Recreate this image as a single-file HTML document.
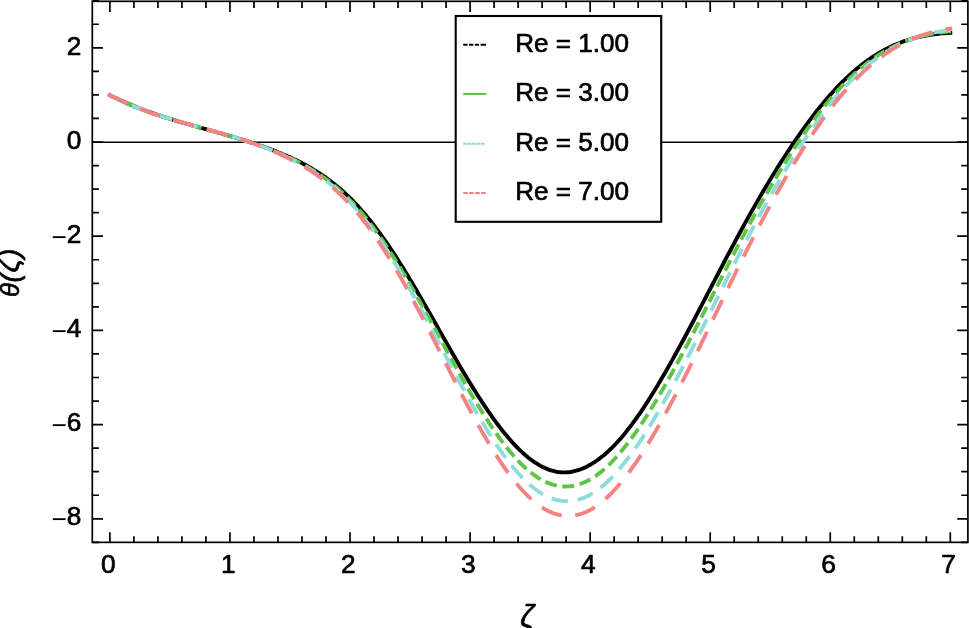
<!DOCTYPE html>
<html lang="en"><head><meta charset="utf-8"><title>θ(ζ) versus ζ for several Re</title>
<style>
html,body{margin:0;padding:0;background:#fff}
body{width:969px;height:628px;overflow:hidden}
svg{display:block}
text{font-family:"Liberation Sans",Arial,Helvetica,sans-serif;font-size:26px;fill:#000;stroke:#000;stroke-width:0.7px;stroke-linejoin:round}
.it{font-style:italic}
</style></head><body>
<svg width="969" height="628" viewBox="0 0 969 628">
<rect width="969" height="628" fill="#fff"/>
<path d="M92.3 142.25 H967.9" stroke="#000" stroke-width="1.7" fill="none"/>
<g fill="none" stroke-linejoin="round">
<path d="M109.9 95.2 L111.9 96.2 L113.9 97.2 L115.9 98.1 L117.9 99.1 L119.9 100.0 L121.9 100.9 L123.9 101.8 L125.9 102.7 L127.9 103.6 L129.9 104.4 L131.9 105.3 L133.9 106.1 L135.9 106.9 L137.9 107.7 L139.9 108.5 L141.9 109.2 L143.9 110.0 L145.9 110.7 L147.9 111.5 L149.9 112.2 L151.9 112.9 L153.9 113.6 L155.9 114.3 L157.9 115.0 L159.9 115.6 L161.9 116.3 L163.9 116.9 L165.9 117.6 L167.9 118.2 L169.9 118.8 L171.9 119.4 L173.9 120.1 L175.9 120.7 L177.9 121.3 L179.9 121.9 L181.9 122.4 L183.9 123.0 L185.9 123.6 L187.9 124.2 L189.9 124.7 L191.9 125.3 L193.9 125.9 L195.9 126.4 L197.9 127.0 L199.9 127.6 L201.9 128.1 L203.9 128.7 L205.9 129.2 L207.9 129.8 L209.9 130.3 L211.9 130.9 L213.9 131.5 L216.0 132.0 L218.0 132.6 L220.0 133.1 L222.0 133.7 L224.0 134.3 L226.0 134.8 L228.0 135.4 L230.0 136.0 L232.0 136.6 L234.0 137.2 L236.0 137.8 L238.0 138.4 L240.0 139.0 L242.0 139.6 L244.0 140.2 L246.0 140.9 L248.0 141.5 L250.0 142.1 L252.0 142.8 L254.0 143.4 L256.0 144.1 L258.0 144.8 L260.0 145.5 L262.0 146.2 L264.0 146.9 L266.0 147.6 L268.0 148.4 L270.0 149.1 L272.0 149.9 L274.0 150.6 L276.0 151.4 L278.0 152.2 L280.0 153.0 L282.0 153.9 L284.0 154.7 L286.0 155.6 L288.0 156.5 L290.0 157.3 L292.0 158.3 L294.0 159.2 L296.0 160.1 L298.0 161.1 L300.0 162.1 L302.0 163.1 L304.0 164.2 L306.0 165.3 L308.0 166.4 L310.0 167.5 L312.0 168.7 L314.0 169.9 L316.0 171.1 L318.0 172.3 L320.0 173.6 L322.0 175.0 L324.0 176.3 L326.0 177.7 L328.0 179.2 L330.0 180.7 L332.0 182.2 L334.0 183.7 L336.0 185.4 L338.0 187.0 L340.0 188.7 L342.0 190.5 L344.0 192.3 L346.0 194.1 L348.0 196.0 L350.0 197.9 L352.0 199.9 L354.0 202.0 L356.0 204.1 L358.0 206.2 L360.0 208.5 L362.0 210.7 L364.0 213.1 L366.0 215.4 L368.0 217.9 L370.0 220.3 L372.0 222.9 L374.0 225.5 L376.0 228.1 L378.0 230.8 L380.0 233.5 L382.0 236.3 L384.0 239.1 L386.0 241.9 L388.0 244.8 L390.0 247.8 L392.0 250.8 L394.0 253.8 L396.0 256.9 L398.0 260.0 L400.0 263.2 L402.0 266.4 L404.0 269.6 L406.0 272.8 L408.0 276.1 L410.0 279.5 L412.0 282.8 L414.0 286.2 L416.0 289.6 L418.0 293.0 L420.0 296.5 L422.0 299.9 L424.0 303.4 L426.1 306.9 L428.1 310.4 L430.1 314.0 L432.1 317.5 L434.1 321.0 L436.1 324.5 L438.1 328.1 L440.1 331.6 L442.1 335.2 L444.1 338.7 L446.1 342.2 L448.1 345.7 L450.1 349.2 L452.1 352.7 L454.1 356.2 L456.1 359.6 L458.1 363.1 L460.1 366.5 L462.1 369.9 L464.1 373.2 L466.1 376.6 L468.1 379.9 L470.1 383.2 L472.1 386.4 L474.1 389.6 L476.1 392.8 L478.1 396.0 L480.1 399.1 L482.1 402.1 L484.1 405.1 L486.1 408.1 L488.1 411.1 L490.1 413.9 L492.1 416.8 L494.1 419.6 L496.1 422.3 L498.1 425.0 L500.1 427.6 L502.1 430.2 L504.1 432.7 L506.1 435.1 L508.1 437.5 L510.1 439.8 L512.1 442.1 L514.1 444.2 L516.1 446.3 L518.1 448.4 L520.1 450.3 L522.1 452.2 L524.1 454.0 L526.1 455.7 L528.1 457.4 L530.1 459.0 L532.1 460.5 L534.1 461.9 L536.1 463.2 L538.1 464.4 L540.1 465.6 L542.1 466.7 L544.1 467.6 L546.1 468.5 L548.1 469.4 L550.1 470.1 L552.1 470.7 L554.1 471.2 L556.1 471.7 L558.1 472.0 L560.1 472.2 L562.1 472.4 L564.1 472.4 L566.1 472.4 L568.1 472.2 L570.1 472.0 L572.1 471.7 L574.1 471.2 L576.1 470.7 L578.1 470.1 L580.1 469.5 L582.1 468.7 L584.1 467.9 L586.1 466.9 L588.1 465.9 L590.1 464.8 L592.1 463.6 L594.1 462.4 L596.1 461.0 L598.1 459.6 L600.1 458.1 L602.1 456.5 L604.1 454.9 L606.1 453.2 L608.1 451.4 L610.1 449.5 L612.1 447.6 L614.1 445.6 L616.1 443.5 L618.1 441.3 L620.1 439.1 L622.1 436.8 L624.1 434.4 L626.1 431.9 L628.1 429.3 L630.1 426.7 L632.1 424.1 L634.1 421.3 L636.2 418.5 L638.2 415.7 L640.2 412.8 L642.2 409.8 L644.2 406.8 L646.2 403.7 L648.2 400.6 L650.2 397.5 L652.2 394.2 L654.2 391.0 L656.2 387.7 L658.2 384.4 L660.2 381.0 L662.2 377.6 L664.2 374.2 L666.2 370.7 L668.2 367.2 L670.2 363.7 L672.2 360.1 L674.2 356.5 L676.2 352.9 L678.2 349.3 L680.2 345.6 L682.2 342.0 L684.2 338.3 L686.2 334.5 L688.2 330.8 L690.2 327.0 L692.2 323.3 L694.2 319.5 L696.2 315.6 L698.2 311.8 L700.2 308.0 L702.2 304.2 L704.2 300.4 L706.2 296.5 L708.2 292.7 L710.2 288.9 L712.2 285.0 L714.2 281.2 L716.2 277.3 L718.2 273.5 L720.2 269.7 L722.2 265.9 L724.2 262.0 L726.2 258.2 L728.2 254.4 L730.2 250.7 L732.2 246.9 L734.2 243.2 L736.2 239.4 L738.2 235.7 L740.2 232.0 L742.2 228.4 L744.2 224.7 L746.2 221.1 L748.2 217.5 L750.2 213.9 L752.2 210.4 L754.2 206.9 L756.2 203.4 L758.2 199.9 L760.2 196.4 L762.2 193.0 L764.2 189.6 L766.2 186.2 L768.2 182.9 L770.2 179.6 L772.2 176.3 L774.2 173.0 L776.2 169.8 L778.2 166.6 L780.2 163.4 L782.2 160.3 L784.2 157.2 L786.2 154.1 L788.2 151.1 L790.2 148.1 L792.2 145.1 L794.2 142.1 L796.2 139.2 L798.2 136.3 L800.2 133.5 L802.2 130.7 L804.2 127.9 L806.2 125.1 L808.2 122.4 L810.2 119.7 L812.2 117.0 L814.2 114.4 L816.2 111.8 L818.2 109.3 L820.2 106.8 L822.2 104.4 L824.2 101.9 L826.2 99.6 L828.2 97.2 L830.2 94.9 L832.2 92.7 L834.2 90.5 L836.2 88.3 L838.2 86.2 L840.2 84.1 L842.2 82.1 L844.2 80.1 L846.3 78.2 L848.3 76.3 L850.3 74.4 L852.3 72.6 L854.3 70.9 L856.3 69.1 L858.3 67.5 L860.3 65.9 L862.3 64.3 L864.3 62.8 L866.3 61.3 L868.3 59.9 L870.3 58.5 L872.3 57.1 L874.3 55.8 L876.3 54.6 L878.3 53.4 L880.3 52.2 L882.3 51.1 L884.3 50.0 L886.3 48.9 L888.3 47.9 L890.3 46.9 L892.3 46.0 L894.3 45.1 L896.3 44.3 L898.3 43.5 L900.3 42.7 L902.3 41.9 L904.3 41.2 L906.3 40.6 L908.3 39.9 L910.3 39.3 L912.3 38.7 L914.3 38.2 L916.3 37.6 L918.3 37.2 L920.3 36.7 L922.3 36.3 L924.3 35.9 L926.3 35.5 L928.3 35.1 L930.3 34.8 L932.3 34.5 L934.3 34.2 L936.3 34.0 L938.3 33.8 L940.3 33.6 L942.3 33.4 L944.3 33.2 L946.3 33.1 L948.3 33.0 L950.3 32.9" stroke="#000000" stroke-width="3.9" stroke-linecap="square"/>
<path d="M109.9 95.2 L111.9 96.2 L113.9 97.2 L115.9 98.2 L117.9 99.1 L119.9 100.1 L121.9 101.0 L123.9 101.9 L125.9 102.8 L127.9 103.6 L129.9 104.5 L131.9 105.3 L133.9 106.2 L135.9 107.0 L137.9 107.8 L139.9 108.5 L141.9 109.3 L143.9 110.1 L145.9 110.8 L147.9 111.5 L149.9 112.2 L151.9 112.9 L153.9 113.6 L155.9 114.3 L157.9 115.0 L159.9 115.7 L161.9 116.3 L163.9 116.9 L165.9 117.6 L167.9 118.2 L169.9 118.8 L171.9 119.4 L173.9 120.0 L175.9 120.6 L177.9 121.2 L179.9 121.8 L181.9 122.4 L183.9 123.0 L185.9 123.6 L187.9 124.1 L189.9 124.7 L191.9 125.3 L193.9 125.8 L195.9 126.4 L197.9 126.9 L199.9 127.5 L201.9 128.0 L203.9 128.6 L205.9 129.2 L207.9 129.7 L209.9 130.3 L211.9 130.8 L213.9 131.4 L216.0 131.9 L218.0 132.5 L220.0 133.1 L222.0 133.6 L224.0 134.2 L226.0 134.8 L228.0 135.4 L230.0 136.0 L232.0 136.5 L234.0 137.1 L236.0 137.7 L238.0 138.4 L240.0 139.0 L242.0 139.6 L244.0 140.2 L246.0 140.9 L248.0 141.5 L250.0 142.2 L252.0 142.9 L254.0 143.5 L256.0 144.2 L258.0 144.9 L260.0 145.6 L262.0 146.4 L264.0 147.1 L266.0 147.8 L268.0 148.6 L270.0 149.4 L272.0 150.2 L274.0 151.0 L276.0 151.8 L278.0 152.6 L280.0 153.4 L282.0 154.3 L284.0 155.2 L286.0 156.1 L288.0 157.0 L290.0 157.9 L292.0 158.9 L294.0 159.8 L296.0 160.8 L298.0 161.8 L300.0 162.9 L302.0 163.9 L304.0 165.0 L306.0 166.2 L308.0 167.3 L310.0 168.5 L312.0 169.7 L314.0 170.9 L316.0 172.2 L318.0 173.5 L320.0 174.9 L322.0 176.2 L324.0 177.7 L326.0 179.1 L328.0 180.6 L330.0 182.2 L332.0 183.7 L334.0 185.4 L336.0 187.0 L338.0 188.8 L340.0 190.5 L342.0 192.3 L344.0 194.2 L346.0 196.1 L348.0 198.1 L350.0 200.1 L352.0 202.2 L354.0 204.3 L356.0 206.5 L358.0 208.7 L360.0 211.0 L362.0 213.3 L364.0 215.8 L366.0 218.2 L368.0 220.7 L370.0 223.3 L372.0 225.9 L374.0 228.6 L376.0 231.3 L378.0 234.1 L380.0 236.9 L382.0 239.7 L384.0 242.7 L386.0 245.6 L388.0 248.6 L390.0 251.7 L392.0 254.8 L394.0 257.9 L396.0 261.1 L398.0 264.3 L400.0 267.6 L402.0 270.9 L404.0 274.2 L406.0 277.6 L408.0 281.0 L410.0 284.4 L412.0 287.9 L414.0 291.4 L416.0 294.9 L418.0 298.5 L420.0 302.0 L422.0 305.6 L424.0 309.2 L426.1 312.8 L428.1 316.5 L430.1 320.1 L432.1 323.8 L434.1 327.5 L436.1 331.1 L438.1 334.8 L440.1 338.5 L442.1 342.1 L444.1 345.8 L446.1 349.5 L448.1 353.1 L450.1 356.8 L452.1 360.4 L454.1 364.0 L456.1 367.6 L458.1 371.2 L460.1 374.8 L462.1 378.3 L464.1 381.8 L466.1 385.3 L468.1 388.8 L470.1 392.2 L472.1 395.6 L474.1 398.9 L476.1 402.3 L478.1 405.6 L480.1 408.8 L482.1 412.0 L484.1 415.2 L486.1 418.3 L488.1 421.4 L490.1 424.4 L492.1 427.4 L494.1 430.3 L496.1 433.2 L498.1 436.0 L500.1 438.8 L502.1 441.5 L504.1 444.1 L506.1 446.7 L508.1 449.2 L510.1 451.7 L512.1 454.0 L514.1 456.3 L516.1 458.6 L518.1 460.7 L520.1 462.8 L522.1 464.8 L524.1 466.7 L526.1 468.6 L528.1 470.3 L530.1 472.0 L532.1 473.5 L534.1 475.0 L536.1 476.4 L538.1 477.8 L540.1 479.0 L542.1 480.1 L544.1 481.2 L546.1 482.1 L548.1 483.0 L550.1 483.7 L552.1 484.4 L554.1 485.0 L556.1 485.5 L558.1 485.8 L560.1 486.1 L562.1 486.3 L564.1 486.5 L566.1 486.5 L568.1 486.4 L570.1 486.2 L572.1 486.0 L574.1 485.6 L576.1 485.2 L578.1 484.6 L580.1 484.0 L582.1 483.2 L584.1 482.4 L586.1 481.5 L588.1 480.5 L590.1 479.4 L592.1 478.2 L594.1 476.9 L596.1 475.6 L598.1 474.1 L600.1 472.6 L602.1 470.9 L604.1 469.2 L606.1 467.4 L608.1 465.6 L610.1 463.6 L612.1 461.6 L614.1 459.5 L616.1 457.3 L618.1 455.0 L620.1 452.7 L622.1 450.3 L624.1 447.9 L626.1 445.3 L628.1 442.8 L630.1 440.1 L632.1 437.4 L634.1 434.6 L636.2 431.8 L638.2 428.9 L640.2 425.9 L642.2 422.9 L644.2 419.9 L646.2 416.7 L648.2 413.6 L650.2 410.4 L652.2 407.1 L654.2 403.8 L656.2 400.5 L658.2 397.1 L660.2 393.7 L662.2 390.3 L664.2 386.8 L666.2 383.3 L668.2 379.7 L670.2 376.1 L672.2 372.5 L674.2 368.9 L676.2 365.2 L678.2 361.5 L680.2 357.8 L682.2 354.1 L684.2 350.3 L686.2 346.6 L688.2 342.8 L690.2 338.9 L692.2 335.1 L694.2 331.3 L696.2 327.4 L698.2 323.5 L700.2 319.6 L702.2 315.7 L704.2 311.8 L706.2 307.8 L708.2 303.9 L710.2 299.9 L712.2 296.0 L714.2 292.1 L716.2 288.1 L718.2 284.2 L720.2 280.2 L722.2 276.3 L724.2 272.4 L726.2 268.5 L728.2 264.6 L730.2 260.7 L732.2 256.8 L734.2 253.0 L736.2 249.1 L738.2 245.3 L740.2 241.5 L742.2 237.7 L744.2 234.0 L746.2 230.2 L748.2 226.5 L750.2 222.8 L752.2 219.2 L754.2 215.5 L756.2 211.9 L758.2 208.3 L760.2 204.8 L762.2 201.2 L764.2 197.7 L766.2 194.2 L768.2 190.7 L770.2 187.3 L772.2 183.9 L774.2 180.5 L776.2 177.2 L778.2 173.8 L780.2 170.6 L782.2 167.3 L784.2 164.1 L786.2 160.9 L788.2 157.7 L790.2 154.6 L792.2 151.5 L794.2 148.4 L796.2 145.3 L798.2 142.3 L800.2 139.4 L802.2 136.4 L804.2 133.5 L806.2 130.7 L808.2 127.9 L810.2 125.1 L812.2 122.3 L814.2 119.6 L816.2 116.9 L818.2 114.3 L820.2 111.7 L822.2 109.1 L824.2 106.6 L826.2 104.1 L828.2 101.7 L830.2 99.3 L832.2 96.9 L834.2 94.6 L836.2 92.4 L838.2 90.1 L840.2 88.0 L842.2 85.8 L844.2 83.7 L846.3 81.7 L848.3 79.7 L850.3 77.7 L852.3 75.8 L854.3 73.9 L856.3 72.1 L858.3 70.4 L860.3 68.6 L862.3 67.0 L864.3 65.4 L866.3 63.8 L868.3 62.2 L870.3 60.7 L872.3 59.3 L874.3 57.9 L876.3 56.5 L878.3 55.2 L880.3 53.9 L882.3 52.7 L884.3 51.5 L886.3 50.4 L888.3 49.3 L890.3 48.2 L892.3 47.2 L894.3 46.2 L896.3 45.2 L898.3 44.3 L900.3 43.4 L902.3 42.5 L904.3 41.7 L906.3 41.0 L908.3 40.2 L910.3 39.5 L912.3 38.8 L914.3 38.2 L916.3 37.6 L918.3 37.0 L920.3 36.4 L922.3 35.9 L924.3 35.4 L926.3 35.0 L928.3 34.5 L930.3 34.1 L932.3 33.7 L934.3 33.4 L936.3 33.1 L938.3 32.8 L940.3 32.5 L942.3 32.2 L944.3 32.0 L946.3 31.8 L948.3 31.6 L950.3 31.5" stroke="#5EC546" stroke-width="3.9" stroke-linecap="square" stroke-dasharray="8.10 9.40"/>
<path d="M109.9 95.2 L111.9 96.2 L113.9 97.2 L115.9 98.2 L117.9 99.1 L119.9 100.1 L121.9 101.0 L123.9 101.9 L125.9 102.8 L127.9 103.7 L129.9 104.5 L131.9 105.4 L133.9 106.2 L135.9 107.0 L137.9 107.8 L139.9 108.6 L141.9 109.4 L143.9 110.1 L145.9 110.8 L147.9 111.6 L149.9 112.3 L151.9 113.0 L153.9 113.7 L155.9 114.4 L157.9 115.0 L159.9 115.7 L161.9 116.3 L163.9 117.0 L165.9 117.6 L167.9 118.2 L169.9 118.8 L171.9 119.4 L173.9 120.0 L175.9 120.6 L177.9 121.2 L179.9 121.8 L181.9 122.4 L183.9 123.0 L185.9 123.5 L187.9 124.1 L189.9 124.7 L191.9 125.2 L193.9 125.8 L195.9 126.3 L197.9 126.9 L199.9 127.4 L201.9 128.0 L203.9 128.5 L205.9 129.1 L207.9 129.6 L209.9 130.2 L211.9 130.7 L213.9 131.3 L216.0 131.9 L218.0 132.4 L220.0 133.0 L222.0 133.6 L224.0 134.1 L226.0 134.7 L228.0 135.3 L230.0 135.9 L232.0 136.5 L234.0 137.1 L236.0 137.7 L238.0 138.3 L240.0 139.0 L242.0 139.6 L244.0 140.3 L246.0 140.9 L248.0 141.6 L250.0 142.2 L252.0 142.9 L254.0 143.6 L256.0 144.3 L258.0 145.0 L260.0 145.8 L262.0 146.5 L264.0 147.3 L266.0 148.0 L268.0 148.8 L270.0 149.6 L272.0 150.4 L274.0 151.3 L276.0 152.1 L278.0 153.0 L280.0 153.8 L282.0 154.7 L284.0 155.6 L286.0 156.6 L288.0 157.5 L290.0 158.5 L292.0 159.5 L294.0 160.5 L296.0 161.5 L298.0 162.5 L300.0 163.6 L302.0 164.7 L304.0 165.9 L306.0 167.0 L308.0 168.2 L310.0 169.5 L312.0 170.7 L314.0 172.0 L316.0 173.3 L318.0 174.7 L320.0 176.1 L322.0 177.5 L324.0 179.0 L326.0 180.5 L328.0 182.1 L330.0 183.7 L332.0 185.3 L334.0 187.0 L336.0 188.7 L338.0 190.5 L340.0 192.3 L342.0 194.2 L344.0 196.2 L346.0 198.1 L348.0 200.2 L350.0 202.3 L352.0 204.4 L354.0 206.6 L356.0 208.9 L358.0 211.2 L360.0 213.5 L362.0 216.0 L364.0 218.5 L366.0 221.0 L368.0 223.6 L370.0 226.2 L372.0 228.9 L374.0 231.7 L376.0 234.5 L378.0 237.4 L380.0 240.3 L382.0 243.2 L384.0 246.2 L386.0 249.3 L388.0 252.4 L390.0 255.5 L392.0 258.7 L394.0 262.0 L396.0 265.3 L398.0 268.6 L400.0 271.9 L402.0 275.4 L404.0 278.8 L406.0 282.3 L408.0 285.8 L410.0 289.4 L412.0 292.9 L414.0 296.6 L416.0 300.2 L418.0 303.9 L420.0 307.6 L422.0 311.3 L424.0 315.0 L426.1 318.8 L428.1 322.5 L430.1 326.3 L432.1 330.1 L434.1 333.9 L436.1 337.7 L438.1 341.5 L440.1 345.3 L442.1 349.1 L444.1 352.9 L446.1 356.7 L448.1 360.5 L450.1 364.3 L452.1 368.1 L454.1 371.9 L456.1 375.6 L458.1 379.3 L460.1 383.0 L462.1 386.7 L464.1 390.4 L466.1 394.0 L468.1 397.6 L470.1 401.2 L472.1 404.8 L474.1 408.3 L476.1 411.7 L478.1 415.2 L480.1 418.6 L482.1 421.9 L484.1 425.3 L486.1 428.5 L488.1 431.7 L490.1 434.9 L492.1 438.0 L494.1 441.1 L496.1 444.1 L498.1 447.1 L500.1 450.0 L502.1 452.8 L504.1 455.6 L506.1 458.3 L508.1 461.0 L510.1 463.5 L512.1 466.0 L514.1 468.5 L516.1 470.8 L518.1 473.1 L520.1 475.3 L522.1 477.4 L524.1 479.4 L526.1 481.4 L528.1 483.3 L530.1 485.0 L532.1 486.7 L534.1 488.3 L536.1 489.8 L538.1 491.3 L540.1 492.6 L542.1 493.8 L544.1 495.0 L546.1 496.0 L548.1 496.9 L550.1 497.8 L552.1 498.6 L554.1 499.2 L556.1 499.8 L558.1 500.3 L560.1 500.6 L562.1 500.9 L564.1 501.1 L566.1 501.2 L568.1 501.2 L570.1 501.1 L572.1 500.9 L574.1 500.6 L576.1 500.2 L578.1 499.7 L580.1 499.1 L582.1 498.4 L584.1 497.6 L586.1 496.7 L588.1 495.8 L590.1 494.7 L592.1 493.5 L594.1 492.3 L596.1 490.9 L598.1 489.5 L600.1 488.0 L602.1 486.4 L604.1 484.7 L606.1 482.9 L608.1 481.0 L610.1 479.1 L612.1 477.0 L614.1 474.9 L616.1 472.8 L618.1 470.5 L620.1 468.2 L622.1 465.8 L624.1 463.3 L626.1 460.7 L628.1 458.1 L630.1 455.4 L632.1 452.7 L634.1 449.9 L636.2 447.0 L638.2 444.1 L640.2 441.1 L642.2 438.1 L644.2 435.0 L646.2 431.8 L648.2 428.6 L650.2 425.4 L652.2 422.1 L654.2 418.7 L656.2 415.3 L658.2 411.9 L660.2 408.4 L662.2 404.9 L664.2 401.4 L666.2 397.8 L668.2 394.2 L670.2 390.5 L672.2 386.8 L674.2 383.1 L676.2 379.4 L678.2 375.6 L680.2 371.8 L682.2 368.0 L684.2 364.2 L686.2 360.3 L688.2 356.4 L690.2 352.5 L692.2 348.6 L694.2 344.7 L696.2 340.7 L698.2 336.7 L700.2 332.7 L702.2 328.7 L704.2 324.7 L706.2 320.7 L708.2 316.6 L710.2 312.6 L712.2 308.5 L714.2 304.5 L716.2 300.4 L718.2 296.4 L720.2 292.3 L722.2 288.3 L724.2 284.3 L726.2 280.2 L728.2 276.2 L730.2 272.2 L732.2 268.2 L734.2 264.3 L736.2 260.3 L738.2 256.4 L740.2 252.4 L742.2 248.5 L744.2 244.7 L746.2 240.8 L748.2 237.0 L750.2 233.2 L752.2 229.4 L754.2 225.6 L756.2 221.9 L758.2 218.1 L760.2 214.4 L762.2 210.8 L764.2 207.1 L766.2 203.5 L768.2 199.9 L770.2 196.3 L772.2 192.8 L774.2 189.3 L776.2 185.8 L778.2 182.4 L780.2 178.9 L782.2 175.5 L784.2 172.2 L786.2 168.8 L788.2 165.5 L790.2 162.3 L792.2 159.0 L794.2 155.8 L796.2 152.6 L798.2 149.5 L800.2 146.4 L802.2 143.3 L804.2 140.3 L806.2 137.3 L808.2 134.3 L810.2 131.4 L812.2 128.5 L814.2 125.7 L816.2 122.8 L818.2 120.1 L820.2 117.3 L822.2 114.6 L824.2 112.0 L826.2 109.4 L828.2 106.8 L830.2 104.3 L832.2 101.8 L834.2 99.3 L836.2 96.9 L838.2 94.6 L840.2 92.3 L842.2 90.0 L844.2 87.8 L846.3 85.6 L848.3 83.5 L850.3 81.4 L852.3 79.3 L854.3 77.4 L856.3 75.4 L858.3 73.5 L860.3 71.7 L862.3 69.9 L864.3 68.1 L866.3 66.4 L868.3 64.8 L870.3 63.2 L872.3 61.6 L874.3 60.1 L876.3 58.6 L878.3 57.1 L880.3 55.8 L882.3 54.4 L884.3 53.1 L886.3 51.8 L888.3 50.6 L890.3 49.4 L892.3 48.3 L894.3 47.2 L896.3 46.1 L898.3 45.1 L900.3 44.1 L902.3 43.1 L904.3 42.2 L906.3 41.3 L908.3 40.5 L910.3 39.7 L912.3 38.9 L914.3 38.2 L916.3 37.5 L918.3 36.8 L920.3 36.2 L922.3 35.6 L924.3 35.0 L926.3 34.4 L928.3 33.9 L930.3 33.4 L932.3 33.0 L934.3 32.5 L936.3 32.1 L938.3 31.8 L940.3 31.4 L942.3 31.1 L944.3 30.8 L946.3 30.6 L948.3 30.3 L950.3 30.1" stroke="#8EDDD9" stroke-width="3.9" stroke-linecap="square" stroke-dasharray="12.70 13.55"/>
<path d="M109.9 95.1 L111.9 96.2 L113.9 97.2 L115.9 98.2 L117.9 99.2 L119.9 100.1 L121.9 101.0 L123.9 102.0 L125.9 102.9 L127.9 103.7 L129.9 104.6 L131.9 105.4 L133.9 106.3 L135.9 107.1 L137.9 107.9 L139.9 108.6 L141.9 109.4 L143.9 110.2 L145.9 110.9 L147.9 111.6 L149.9 112.3 L151.9 113.0 L153.9 113.7 L155.9 114.4 L157.9 115.1 L159.9 115.7 L161.9 116.4 L163.9 117.0 L165.9 117.6 L167.9 118.2 L169.9 118.8 L171.9 119.4 L173.9 120.0 L175.9 120.6 L177.9 121.2 L179.9 121.8 L181.9 122.4 L183.9 122.9 L185.9 123.5 L187.9 124.0 L189.9 124.6 L191.9 125.2 L193.9 125.7 L195.9 126.3 L197.9 126.8 L199.9 127.4 L201.9 127.9 L203.9 128.5 L205.9 129.0 L207.9 129.6 L209.9 130.1 L211.9 130.7 L213.9 131.2 L216.0 131.8 L218.0 132.4 L220.0 132.9 L222.0 133.5 L224.0 134.1 L226.0 134.7 L228.0 135.3 L230.0 135.9 L232.0 136.5 L234.0 137.1 L236.0 137.7 L238.0 138.3 L240.0 139.0 L242.0 139.6 L244.0 140.3 L246.0 140.9 L248.0 141.6 L250.0 142.3 L252.0 143.0 L254.0 143.7 L256.0 144.4 L258.0 145.2 L260.0 145.9 L262.0 146.7 L264.0 147.5 L266.0 148.3 L268.0 149.1 L270.0 149.9 L272.0 150.7 L274.0 151.6 L276.0 152.4 L278.0 153.3 L280.0 154.2 L282.0 155.2 L284.0 156.1 L286.0 157.1 L288.0 158.0 L290.0 159.0 L292.0 160.1 L294.0 161.1 L296.0 162.2 L298.0 163.3 L300.0 164.4 L302.0 165.5 L304.0 166.7 L306.0 167.9 L308.0 169.2 L310.0 170.4 L312.0 171.7 L314.0 173.1 L316.0 174.4 L318.0 175.9 L320.0 177.3 L322.0 178.8 L324.0 180.3 L326.0 181.9 L328.0 183.5 L330.0 185.2 L332.0 186.9 L334.0 188.6 L336.0 190.4 L338.0 192.3 L340.0 194.2 L342.0 196.1 L344.0 198.1 L346.0 200.2 L348.0 202.3 L350.0 204.4 L352.0 206.6 L354.0 208.9 L356.0 211.2 L358.0 213.6 L360.0 216.1 L362.0 218.6 L364.0 221.2 L366.0 223.8 L368.0 226.5 L370.0 229.2 L372.0 232.0 L374.0 234.8 L376.0 237.7 L378.0 240.7 L380.0 243.7 L382.0 246.7 L384.0 249.8 L386.0 253.0 L388.0 256.2 L390.0 259.4 L392.0 262.7 L394.0 266.1 L396.0 269.4 L398.0 272.9 L400.0 276.3 L402.0 279.9 L404.0 283.4 L406.0 287.0 L408.0 290.6 L410.0 294.3 L412.0 298.0 L414.0 301.7 L416.0 305.5 L418.0 309.3 L420.0 313.1 L422.0 316.9 L424.0 320.8 L426.1 324.7 L428.1 328.6 L430.1 332.5 L432.1 336.4 L434.1 340.3 L436.1 344.3 L438.1 348.2 L440.1 352.2 L442.1 356.1 L444.1 360.1 L446.1 364.0 L448.1 367.9 L450.1 371.9 L452.1 375.8 L454.1 379.7 L456.1 383.6 L458.1 387.5 L460.1 391.3 L462.1 395.2 L464.1 399.0 L466.1 402.8 L468.1 406.5 L470.1 410.2 L472.1 413.9 L474.1 417.6 L476.1 421.2 L478.1 424.8 L480.1 428.3 L482.1 431.9 L484.1 435.3 L486.1 438.7 L488.1 442.1 L490.1 445.4 L492.1 448.7 L494.1 451.9 L496.1 455.0 L498.1 458.1 L500.1 461.2 L502.1 464.2 L504.1 467.1 L506.1 469.9 L508.1 472.7 L510.1 475.4 L512.1 478.0 L514.1 480.6 L516.1 483.1 L518.1 485.5 L520.1 487.8 L522.1 490.0 L524.1 492.2 L526.1 494.2 L528.1 496.2 L530.1 498.1 L532.1 499.9 L534.1 501.6 L536.1 503.2 L538.1 504.8 L540.1 506.2 L542.1 507.5 L544.1 508.8 L546.1 509.9 L548.1 510.9 L550.1 511.9 L552.1 512.7 L554.1 513.5 L556.1 514.1 L558.1 514.7 L560.1 515.1 L562.1 515.5 L564.1 515.7 L566.1 515.9 L568.1 515.9 L570.1 515.9 L572.1 515.7 L574.1 515.5 L576.1 515.2 L578.1 514.7 L580.1 514.2 L582.1 513.5 L584.1 512.8 L586.1 512.0 L588.1 511.0 L590.1 510.0 L592.1 508.9 L594.1 507.7 L596.1 506.3 L598.1 504.9 L600.1 503.4 L602.1 501.8 L604.1 500.1 L606.1 498.3 L608.1 496.5 L610.1 494.5 L612.1 492.5 L614.1 490.4 L616.1 488.2 L618.1 486.0 L620.1 483.6 L622.1 481.2 L624.1 478.7 L626.1 476.1 L628.1 473.5 L630.1 470.8 L632.1 468.0 L634.1 465.2 L636.2 462.3 L638.2 459.3 L640.2 456.3 L642.2 453.2 L644.2 450.1 L646.2 446.9 L648.2 443.6 L650.2 440.3 L652.2 437.0 L654.2 433.6 L656.2 430.1 L658.2 426.7 L660.2 423.1 L662.2 419.6 L664.2 415.9 L666.2 412.3 L668.2 408.6 L670.2 404.9 L672.2 401.1 L674.2 397.4 L676.2 393.6 L678.2 389.7 L680.2 385.8 L682.2 382.0 L684.2 378.0 L686.2 374.1 L688.2 370.1 L690.2 366.1 L692.2 362.1 L694.2 358.1 L696.2 354.0 L698.2 349.9 L700.2 345.8 L702.2 341.7 L704.2 337.6 L706.2 333.5 L708.2 329.3 L710.2 325.2 L712.2 321.1 L714.2 316.9 L716.2 312.7 L718.2 308.6 L720.2 304.4 L722.2 300.3 L724.2 296.1 L726.2 292.0 L728.2 287.9 L730.2 283.7 L732.2 279.6 L734.2 275.6 L736.2 271.5 L738.2 267.4 L740.2 263.4 L742.2 259.4 L744.2 255.4 L746.2 251.4 L748.2 247.4 L750.2 243.5 L752.2 239.6 L754.2 235.7 L756.2 231.8 L758.2 228.0 L760.2 224.1 L762.2 220.3 L764.2 216.6 L766.2 212.8 L768.2 209.1 L770.2 205.4 L772.2 201.7 L774.2 198.1 L776.2 194.4 L778.2 190.9 L780.2 187.3 L782.2 183.8 L784.2 180.3 L786.2 176.8 L788.2 173.4 L790.2 169.9 L792.2 166.6 L794.2 163.2 L796.2 159.9 L798.2 156.6 L800.2 153.4 L802.2 150.2 L804.2 147.0 L806.2 143.9 L808.2 140.8 L810.2 137.7 L812.2 134.7 L814.2 131.7 L816.2 128.8 L818.2 125.9 L820.2 123.0 L822.2 120.2 L824.2 117.4 L826.2 114.6 L828.2 111.9 L830.2 109.3 L832.2 106.6 L834.2 104.1 L836.2 101.5 L838.2 99.0 L840.2 96.6 L842.2 94.2 L844.2 91.8 L846.3 89.5 L848.3 87.3 L850.3 85.0 L852.3 82.9 L854.3 80.8 L856.3 78.7 L858.3 76.7 L860.3 74.7 L862.3 72.8 L864.3 70.9 L866.3 69.1 L868.3 67.3 L870.3 65.6 L872.3 63.9 L874.3 62.2 L876.3 60.6 L878.3 59.1 L880.3 57.6 L882.3 56.1 L884.3 54.7 L886.3 53.3 L888.3 52.0 L890.3 50.7 L892.3 49.4 L894.3 48.2 L896.3 47.0 L898.3 45.9 L900.3 44.8 L902.3 43.7 L904.3 42.7 L906.3 41.7 L908.3 40.8 L910.3 39.9 L912.3 39.0 L914.3 38.2 L916.3 37.4 L918.3 36.6 L920.3 35.9 L922.3 35.2 L924.3 34.5 L926.3 33.9 L928.3 33.3 L930.3 32.7 L932.3 32.2 L934.3 31.7 L936.3 31.2 L938.3 30.8 L940.3 30.4 L942.3 30.0 L944.3 29.6 L946.3 29.3 L948.3 29.0 L950.3 28.7" stroke="#F58383" stroke-width="3.9" stroke-linecap="square" stroke-dasharray="17.60 17.40"/>
</g>
<path d="M109.90 542.35 v-10.10 M109.90 1.3 v10.7 M133.91 542.35 v-6.00 M133.91 1.3 v6.6 M157.92 542.35 v-6.00 M157.92 1.3 v6.6 M181.94 542.35 v-6.00 M181.94 1.3 v6.6 M205.95 542.35 v-6.00 M205.95 1.3 v6.6 M229.96 542.35 v-10.10 M229.96 1.3 v10.7 M253.97 542.35 v-6.00 M253.97 1.3 v6.6 M277.98 542.35 v-6.00 M277.98 1.3 v6.6 M302.00 542.35 v-6.00 M302.00 1.3 v6.6 M326.01 542.35 v-6.00 M326.01 1.3 v6.6 M350.02 542.35 v-10.10 M350.02 1.3 v10.7 M374.03 542.35 v-6.00 M374.03 1.3 v6.6 M398.04 542.35 v-6.00 M398.04 1.3 v6.6 M422.06 542.35 v-6.00 M422.06 1.3 v6.6 M446.07 542.35 v-6.00 M446.07 1.3 v6.6 M470.08 542.35 v-10.10 M470.08 1.3 v10.7 M494.09 542.35 v-6.00 M494.09 1.3 v6.6 M518.10 542.35 v-6.00 M518.10 1.3 v6.6 M542.12 542.35 v-6.00 M542.12 1.3 v6.6 M566.13 542.35 v-6.00 M566.13 1.3 v6.6 M590.14 542.35 v-10.10 M590.14 1.3 v10.7 M614.15 542.35 v-6.00 M614.15 1.3 v6.6 M638.16 542.35 v-6.00 M638.16 1.3 v6.6 M662.18 542.35 v-6.00 M662.18 1.3 v6.6 M686.19 542.35 v-6.00 M686.19 1.3 v6.6 M710.20 542.35 v-10.10 M710.20 1.3 v10.7 M734.21 542.35 v-6.00 M734.21 1.3 v6.6 M758.22 542.35 v-6.00 M758.22 1.3 v6.6 M782.24 542.35 v-6.00 M782.24 1.3 v6.6 M806.25 542.35 v-6.00 M806.25 1.3 v6.6 M830.26 542.35 v-10.10 M830.26 1.3 v10.7 M854.27 542.35 v-6.00 M854.27 1.3 v6.6 M878.28 542.35 v-6.00 M878.28 1.3 v6.6 M902.30 542.35 v-6.00 M902.30 1.3 v6.6 M926.31 542.35 v-6.00 M926.31 1.3 v6.6 M950.32 542.35 v-10.10 M950.32 1.3 v10.7 M92.3 542.35 h6.6 M967.9 542.35 h-6.6 M92.3 518.80 h10.7 M967.9 518.80 h-10.7 M92.3 495.25 h6.6 M967.9 495.25 h-6.6 M92.3 471.70 h6.6 M967.9 471.70 h-6.6 M92.3 448.15 h6.6 M967.9 448.15 h-6.6 M92.3 424.60 h10.7 M967.9 424.60 h-10.7 M92.3 401.05 h6.6 M967.9 401.05 h-6.6 M92.3 377.50 h6.6 M967.9 377.50 h-6.6 M92.3 353.95 h6.6 M967.9 353.95 h-6.6 M92.3 330.40 h10.7 M967.9 330.40 h-10.7 M92.3 306.85 h6.6 M967.9 306.85 h-6.6 M92.3 283.30 h6.6 M967.9 283.30 h-6.6 M92.3 259.75 h6.6 M967.9 259.75 h-6.6 M92.3 236.20 h10.7 M967.9 236.20 h-10.7 M92.3 212.65 h6.6 M967.9 212.65 h-6.6 M92.3 189.10 h6.6 M967.9 189.10 h-6.6 M92.3 165.55 h6.6 M967.9 165.55 h-6.6 M92.3 142.00 h10.7 M967.9 142.00 h-10.7 M92.3 118.45 h6.6 M967.9 118.45 h-6.6 M92.3 94.90 h6.6 M967.9 94.90 h-6.6 M92.3 71.35 h6.6 M967.9 71.35 h-6.6 M92.3 47.80 h10.7 M967.9 47.80 h-10.7 M92.3 24.25 h6.6 M967.9 24.25 h-6.6 M92.3 0.70 h6.6 M967.9 0.70 h-6.6" stroke="#000" stroke-width="1.7" fill="none"/>
<rect x="92.3" y="1.3" width="875.60" height="541.05" fill="none" stroke="#000" stroke-width="1.7"/>
<text transform="translate(108.2 572.6) scale(1.01 1)" text-anchor="middle">0</text>
<text transform="translate(228.3 572.6) scale(1.01 1)" text-anchor="middle">1</text>
<text transform="translate(348.3 572.6) scale(1.01 1)" text-anchor="middle">2</text>
<text transform="translate(468.4 572.6) scale(1.01 1)" text-anchor="middle">3</text>
<text transform="translate(588.4 572.6) scale(1.01 1)" text-anchor="middle">4</text>
<text transform="translate(708.5 572.6) scale(1.01 1)" text-anchor="middle">5</text>
<text transform="translate(828.6 572.6) scale(1.01 1)" text-anchor="middle">6</text>
<text transform="translate(948.6 572.6) scale(1.01 1)" text-anchor="middle">7</text>
<text transform="translate(81.4 55.1) scale(1.01 1)" text-anchor="end">2</text>
<text transform="translate(81.4 149.2) scale(1.01 1)" text-anchor="end">0</text>
<text transform="translate(81.4 243.2) scale(1.01 1)" text-anchor="end"><tspan dy="2.9" style="stroke:none">−</tspan><tspan dy="-2.9">2</tspan></text>
<text transform="translate(81.4 337.0) scale(1.01 1)" text-anchor="end"><tspan dy="2.9" style="stroke:none">−</tspan><tspan dy="-2.9">4</tspan></text>
<text transform="translate(81.4 430.8) scale(1.01 1)" text-anchor="end"><tspan dy="2.9" style="stroke:none">−</tspan><tspan dy="-2.9">6</tspan></text>
<text transform="translate(81.4 524.6) scale(1.01 1)" text-anchor="end"><tspan dy="2.9" style="stroke:none">−</tspan><tspan dy="-2.9">8</tspan></text>
<text class="it" x="527.4" y="626.6" text-anchor="middle" style="font-size:30.5px">ζ</text>
<text class="it" transform="translate(19.3 296.9) rotate(-90)" style="font-size:25.5px"><tspan>θ</tspan><tspan dx="0.6" style="font-size:27.5px">(</tspan><tspan dx="0.8" style="font-size:30px">ζ</tspan><tspan dx="0.8" style="font-size:27.5px">)</tspan></text>
<rect x="455.7" y="16" width="205.5" height="205.8" fill="#fff" stroke="#000" stroke-width="2.1"/>
<path d="M463.2 44.8 H486.0" stroke="#000000" stroke-width="2" fill="none" stroke-dasharray="4.3 1.5 4.3 1.5 4.3 1.5 5.5 9"/>
<text transform="translate(515.3 51.6) scale(1.003 1)">Re = 1.00</text>
<path d="M463.2 94.0 H486.2" stroke="#5EC546" stroke-width="2" fill="none"/>
<text transform="translate(515.3 100.8) scale(1.003 1)">Re = 3.00</text>
<path d="M463.2 143.8 H484.8" stroke="#8EDDD9" stroke-width="2" fill="none" stroke-dasharray="3.9 0.5"/>
<text transform="translate(515.3 150.6) scale(1.003 1)">Re = 5.00</text>
<path d="M463.2 192.9 H485.8" stroke="#F58383" stroke-width="2" fill="none" stroke-dasharray="4.6 1.4"/>
<text transform="translate(515.3 199.7) scale(1.003 1)">Re = 7.00</text>
</svg></body></html>
